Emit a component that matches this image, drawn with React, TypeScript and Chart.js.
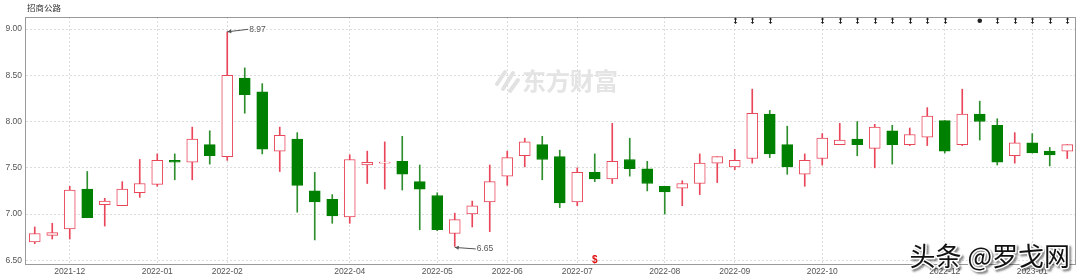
import React, { useEffect, useRef } from "react";
import { Chart, registerables } from "chart.js";

Chart.register(...registerables);

const title = "招商公路";

const opens = [
  6.70, 6.77, 6.84, 7.27, 7.10, 7.09, 7.23, 7.32, 7.58, 7.56,
  7.75, 7.62, 8.47, 8.32, 7.68, 7.81, 7.25, 7.16, 6.97, 7.53,
  7.55, 7.57, 7.35, 7.20, 6.79, 7.00, 7.13, 7.41, 7.63, 7.75,
  7.62, 7.13, 7.45, 7.38, 7.59, 7.49, 7.30, 7.28, 7.33, 7.55,
  7.51, 7.60, 8.08, 7.75, 7.43, 7.60, 7.75, 7.81, 7.71, 7.90,
  7.75, 7.83, 8.01, 7.75, 8.08, 7.96, 7.63, 7.77, 7.68, 7.68,
];
const highs = [
  6.86, 6.90, 7.30, 7.46, 7.17, 7.35, 7.59, 7.65, 7.65, 7.94,
  7.90, 8.97, 8.58, 8.41, 7.94, 7.88, 7.45, 7.21, 7.64, 7.68,
  7.78, 7.84, 7.53, 7.23, 7.01, 7.14, 7.53, 7.68, 7.82, 7.84,
  7.69, 7.50, 7.65, 7.98, 7.82, 7.57, 7.30, 7.36, 7.65, 7.62,
  7.70, 8.35, 8.12, 7.95, 7.65, 7.87, 7.98, 8.00, 7.97, 7.96,
  7.93, 8.15, 8.01, 8.35, 8.22, 8.03, 7.88, 7.87, 7.72, 7.75,
];
const lows = [
  6.68, 6.73, 6.73, 6.96, 6.87, 7.09, 7.18, 7.30, 7.37, 7.37,
  7.54, 7.58, 8.09, 7.65, 7.46, 7.02, 6.72, 6.90, 6.90, 7.33,
  7.27, 7.26, 6.83, 6.82, 6.65, 6.86, 6.81, 7.31, 7.51, 7.37,
  7.07, 7.09, 7.35, 7.33, 7.41, 7.25, 7.00, 7.09, 7.21, 7.34,
  7.48, 7.55, 7.61, 7.43, 7.30, 7.53, 7.75, 7.63, 7.50, 7.54,
  7.74, 7.74, 7.66, 7.74, 7.80, 7.53, 7.55, 7.66, 7.52, 7.60,
];
const closes = [
  6.79, 6.80, 7.26, 6.96, 7.14, 7.27, 7.33, 7.58, 7.56, 7.81,
  7.63, 8.50, 8.29, 7.70, 7.85, 7.31, 7.13, 6.98, 7.59, 7.56,
  7.56, 7.43, 7.27, 6.83, 6.94, 7.09, 7.35, 7.61, 7.78, 7.59,
  7.12, 7.45, 7.38, 7.57, 7.49, 7.33, 7.24, 7.33, 7.55, 7.62,
  7.58, 8.09, 7.65, 7.51, 7.58, 7.82, 7.80, 7.75, 7.94, 7.75,
  7.86, 8.06, 7.68, 8.08, 8.00, 7.56, 7.77, 7.66, 7.64, 7.75,
];

const xTickIndex = [2, 7, 11, 18, 23, 27, 31, 36, 40, 45, 52, 57];
const xTickLabels = [
  "2021-12", "2022-01", "2022-02", "2022-04", "2022-05", "2022-06",
  "2022-07", "2022-08", "2022-09", "2022-10", "2022-12", "2023-01",
];
const yTicks = [6.5, 7.0, 7.5, 8.0, 8.5, 9.0];

const arrowMarks = [40, 41, 42, 45, 46, 47, 48, 49, 50, 51, 52, 55, 56, 57, 58, 59];
const dotMarks = [54];
const sMarks = [32];

const RED = "#e8475a";
const GREEN = "#008000";
const GREEN_WICK = "#2f8f2f";
const GRID = "#dcdcdc";
const LABEL = "#555555";
const FONT = "'Liberation Sans', Arial, sans-serif";
const CJK = "'Noto Sans CJK SC', 'Noto Sans', sans-serif";

const categories = opens.map((_, i) => {
  const k = xTickIndex.indexOf(i);
  return k >= 0 ? xTickLabels[k] : "";
});

const overlayPlugin = {
  id: "overlay",
  beforeDatasetsDraw(chart: any) {
    const { ctx, chartArea } = chart;
    // watermark 东方财富
    ctx.save();
    ctx.strokeStyle = "#e2e2e2";
    ctx.lineWidth = 4;
    ctx.lineCap = "round";
    ctx.beginPath();
    ctx.moveTo(497, 84); ctx.lineTo(505, 72);
    ctx.moveTo(503, 89); ctx.lineTo(513, 73);
    ctx.moveTo(510, 91); ctx.lineTo(518, 80);
    ctx.stroke();
    ctx.fillStyle = "#e4e4e4";
    ctx.font = `bold 24px ${CJK}`;
    ctx.textBaseline = "middle";
    ctx.textAlign = "left";
    ctx.fillText("东方财富", 522, 81);
    ctx.restore();
  },
  afterDatasetsDraw(chart: any) {
    const { ctx, chartArea, scales } = chart;
    const xs = scales.x;
    const ys = scales.y;
    ctx.save();
    // frame
    ctx.strokeStyle = "#999999";
    ctx.lineWidth = 1;
    ctx.strokeRect(
      Math.round(chartArea.left) - 0.5,
      Math.round(chartArea.top) + 0.5,
      Math.round(chartArea.right - chartArea.left),
      Math.round(chartArea.bottom - chartArea.top)
    );
    // title
    ctx.fillStyle = "#333";
    ctx.font = `8.5px ${CJK}`;
    ctx.textAlign = "left";
    ctx.textBaseline = "middle";
    ctx.fillText(title, 27, 8);

    // top markers
    ctx.fillStyle = "#222";
    ctx.strokeStyle = "#222";
    const my = chartArea.top + 3.7;
    arrowMarks.forEach((i) => {
      const x = Math.round(xs.getPixelForValue(i)) + 0.5;
      ctx.beginPath();
      ctx.moveTo(x, my - 2.5);
      ctx.lineTo(x, my + 2.5);
      ctx.stroke();
      ctx.beginPath();
      ctx.moveTo(x - 1.8, my - 1.2); ctx.lineTo(x + 1.8, my - 1.2); ctx.lineTo(x, my - 3.2);
      ctx.closePath(); ctx.fill();
      ctx.beginPath();
      ctx.moveTo(x - 1.8, my + 1.2); ctx.lineTo(x + 1.8, my + 1.2); ctx.lineTo(x, my + 3.2);
      ctx.closePath(); ctx.fill();
    });
    dotMarks.forEach((i) => {
      const x = xs.getPixelForValue(i);
      ctx.beginPath();
      ctx.arc(x, my, 2.3, 0, Math.PI * 2);
      ctx.fill();
    });
    // S markers
    ctx.fillStyle = "#e01010";
    ctx.font = `bold 10px ${FONT}`;
    ctx.textAlign = "center";
    sMarks.forEach((i) => {
      const x = xs.getPixelForValue(i);
      ctx.fillText("$", x, chartArea.bottom - 4);
    });

    // max / min annotations
    let hi = 0, lo = 0;
    highs.forEach((v, i) => { if (v > highs[hi]) hi = i; });
    lows.forEach((v, i) => { if (v < lows[lo]) lo = i; });
    const drawNote = (i: number, v: number, dy: number) => {
      const tx = xs.getPixelForValue(i);
      const ty = ys.getPixelForValue(v) + (dy > 0 ? 1 : 0);
      const ex = tx + 21;
      const ey = ty + dy;
      ctx.strokeStyle = "#555";
      ctx.fillStyle = "#555";
      ctx.lineWidth = 1;
      ctx.beginPath();
      ctx.moveTo(tx, ty);
      ctx.lineTo(ex, ey);
      ctx.stroke();
      const ang = Math.atan2(ey - ty, ex - tx);
      ctx.beginPath();
      ctx.moveTo(tx, ty);
      ctx.lineTo(tx + 4 * Math.cos(ang) - 2 * Math.sin(ang), ty + 4 * Math.sin(ang) + 2 * Math.cos(ang));
      ctx.lineTo(tx + 4 * Math.cos(ang) + 2 * Math.sin(ang), ty + 4 * Math.sin(ang) - 2 * Math.cos(ang));
      ctx.closePath();
      ctx.fill();
      ctx.font = `8.5px ${FONT}`;
      ctx.textAlign = "left";
      ctx.textBaseline = "middle";
      ctx.fillText(v.toFixed(2), ex + 1, ey);
    };
    drawNote(hi, highs[hi], -2.5);
    drawNote(lo, lows[lo], 1.5);
    ctx.restore();
  },
  afterDraw(chart: any) {
    const { ctx } = chart;
    ctx.save();
    ctx.font = `26px ${CJK}`;
    ctx.textAlign = "right";
    ctx.textBaseline = "middle";
    ctx.shadowColor = "rgba(0,0,0,0.45)";
    ctx.shadowOffsetX = 2;
    ctx.shadowOffsetY = 2;
    ctx.shadowBlur = 2;
    ctx.strokeStyle = "#ffffff";
    ctx.lineWidth = 3;
    ctx.lineJoin = "round";
    const s = "头条 @罗戈网";
    ctx.strokeText(s, 1070, 256);
    ctx.shadowColor = "transparent";
    ctx.fillStyle = "#111";
    ctx.fillText(s, 1070, 256);
    ctx.restore();
  },
};

export default function App() {
  const ref = useRef<HTMLCanvasElement>(null);
  useEffect(() => {
    document.body.style.margin = "0";
    const up = opens.map((o, i) => closes[i] >= o);
    const chart = new Chart(ref.current!, {
      type: "bar",
      data: {
        labels: categories,
        datasets: [
          {
            label: "body",
            data: opens.map((o, i) => [o, closes[i]]) as any,
            backgroundColor: up.map((u) => (u ? "#ffffff" : GREEN)),
            borderColor: up.map((u) => (u ? RED : GREEN)),
            borderWidth: 1,
            borderSkipped: false,
            barThickness: 11,
            minBarLength: 1,
            grouped: false,
            order: 0,
          } as any,
          {
            label: "wick",
            data: lows.map((l, i) => [l, highs[i]]) as any,
            backgroundColor: up.map((u) => (u ? RED : GREEN_WICK)),
            borderWidth: 0,
            barThickness: 1,
            grouped: false,
            order: 1,
          } as any,
        ],
      },
      options: {
        responsive: false,
        maintainAspectRatio: false,
        devicePixelRatio: 1,
        animation: false,
        layout: { padding: { top: 17, right: 4, left: 0, bottom: 0 } },
        plugins: {
          legend: { display: false },
          tooltip: { enabled: false },
          title: { display: false },
        },
        scales: {
          x: {
            type: "category",
            offset: true,
            grid: {
              offset: false,
              drawTicks: false,
              color: (c: any) => (categories[c.index] ? GRID : "rgba(0,0,0,0)"),
            },
            border: { display: false, dash: [2, 2] },
            ticks: {
              autoSkip: false,
              maxRotation: 0,
              minRotation: 0,
              padding: 3,
              color: LABEL,
              font: { family: FONT, size: 8.5 },
              callback: (_v: any, i: number) => categories[i],
            },
            afterFit: (s: any) => {
              s.height = 16;
            },
          },
          y: {
            type: "linear",
            min: 6.46,
            max: 9.13,
            grid: { color: GRID, drawTicks: false },
            border: { display: false, dash: [2, 2] },
            afterBuildTicks: (s: any) => {
              s.ticks = yTicks.map((v) => ({ value: v }));
            },
            ticks: {
              padding: 4,
              color: LABEL,
              font: { family: FONT, size: 8.5 },
              callback: (v: any) => Number(v).toFixed(2),
            },
            afterFit: (s: any) => {
              s.width = 26;
            },
          },
        },
      } as any,
      plugins: [overlayPlugin],
    });
    return () => chart.destroy();
  }, []);
  return (
    <div style={{ position: "fixed", left: 0, top: 0, width: 1080, height: 280, background: "#fff" }}>
      <canvas ref={ref} width={1080} height={280} style={{ display: "block", width: 1080, height: 280 }} />
    </div>
  );
}
